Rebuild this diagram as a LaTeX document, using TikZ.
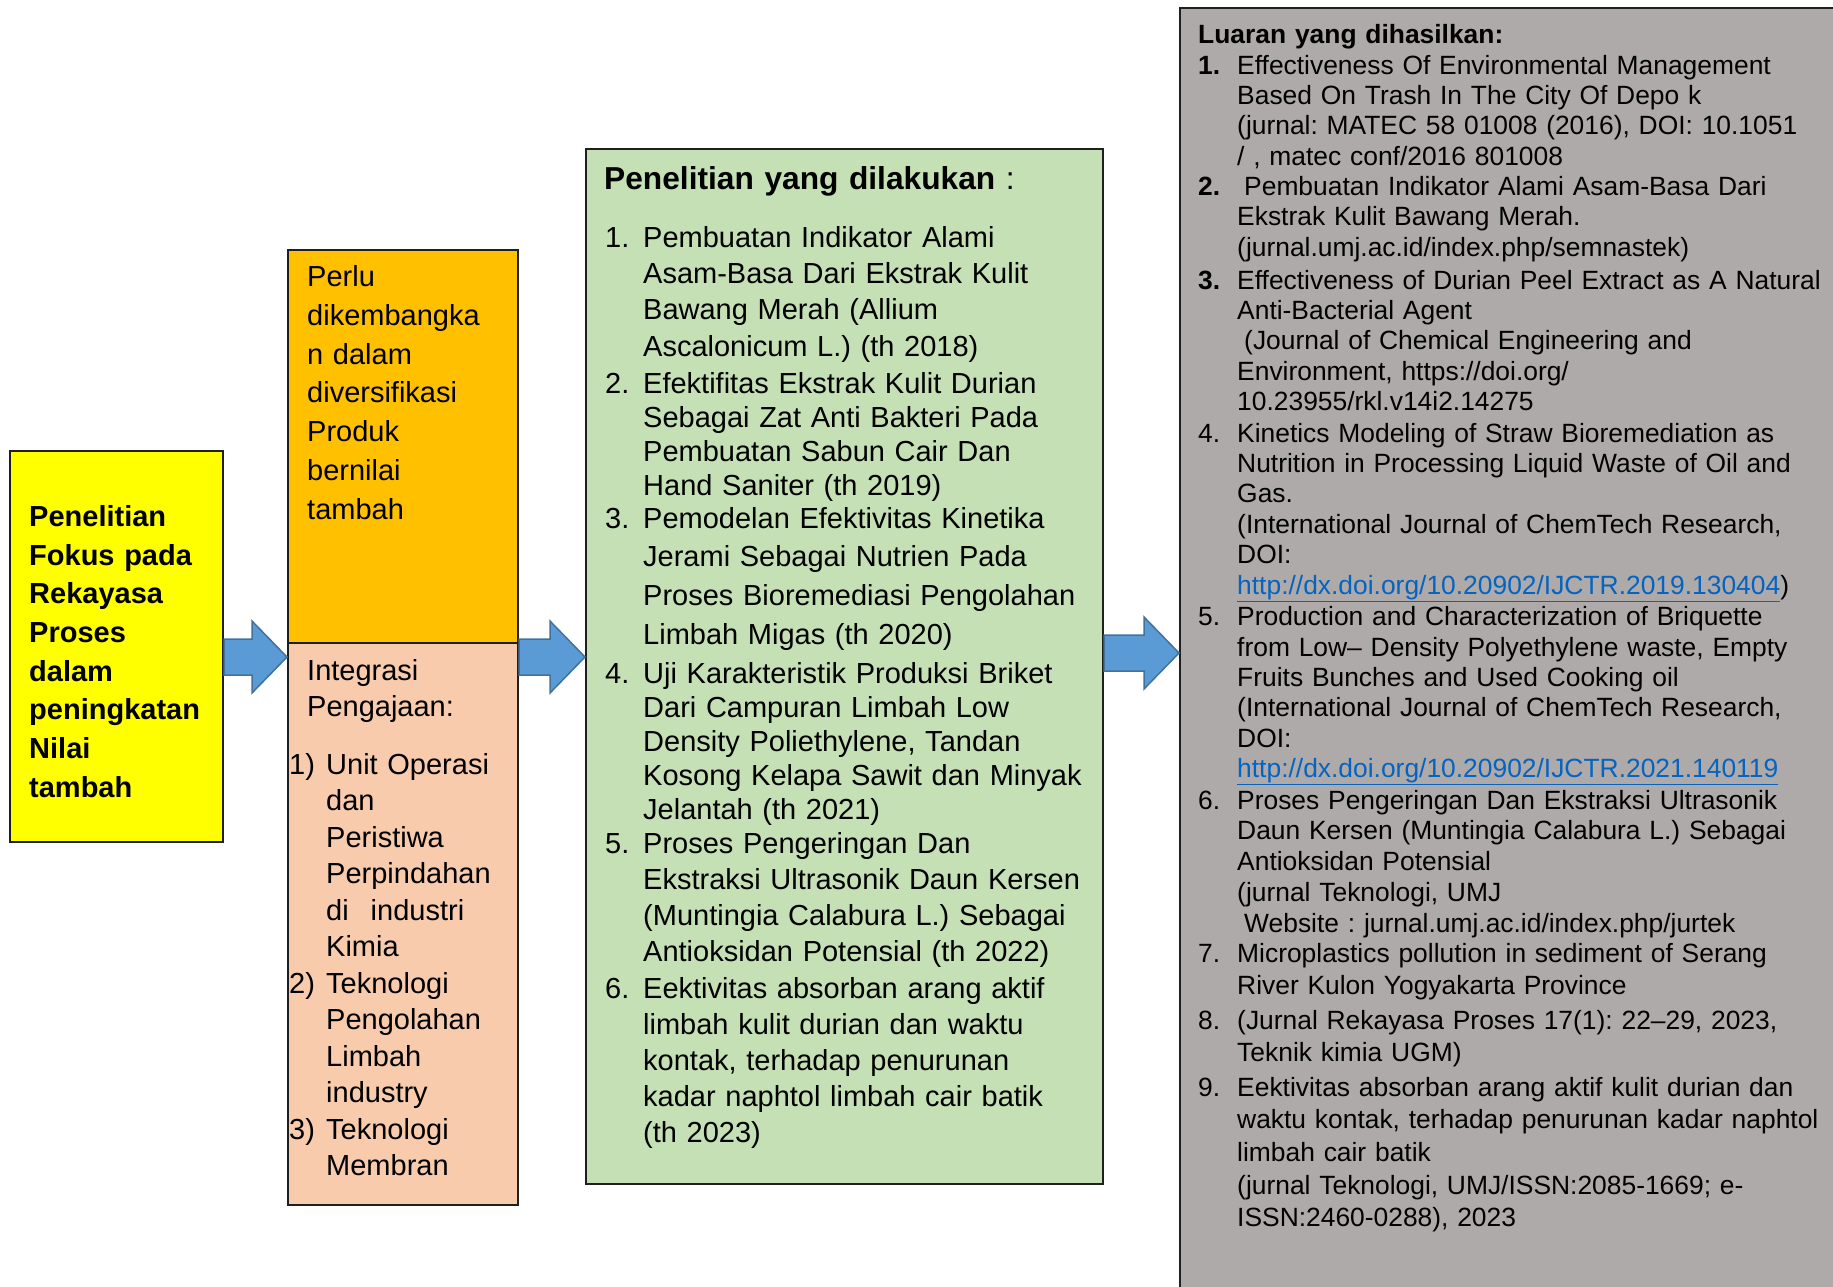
\documentclass[tikz,border=0pt]{standalone}
\usepackage{fontspec}
\setmainfont{Liberation Sans}
\usetikzlibrary{calc}

\definecolor{focusyellow}{HTML}{FFFF00}
\definecolor{developorange}{HTML}{FFC000}
\definecolor{teachpeach}{HTML}{F8CBAD}
\definecolor{researchgreen}{HTML}{C5E0B4}
\definecolor{outputgray}{HTML}{AEAAAA}
\definecolor{arrowblue}{HTML}{5B9BD5}
\definecolor{arrowedge}{HTML}{41719C}
\definecolor{linkblue}{HTML}{0563C1}

\newcommand\setsize[2]{\fontsize{#1}{#2}\selectfont\frenchspacing}
\newcommand\weblink[1]{\textcolor{linkblue}{\underline{#1}}}
\newcommand\blockarrow[2]{\draw[flowarrow] ($(#1)+(0,-18)$) -- ($(#2)+(-35,-18)$) -- ($(#2)+(-35,-36)$) -- (#2) -- ($(#2)+(-35,36)$) -- ($(#2)+(-35,18)$) -- ($(#1)+(0,18)$) -- cycle;}

\tikzset{
  panel/.style={draw=black!88, line width=2pt, anchor=north west, inner sep=0pt},
  body/.style={anchor=base west, inner sep=0pt, text width=#1, align=left},
  num/.style={anchor=base west, inner sep=0pt},
  flowarrow/.style={fill=arrowblue, draw=arrowedge, line width=1.5pt, line join=miter}
}

\begin{document}
\begin{tikzpicture}[x=1pt, y=-1pt]
			%%%%% START %%%%%
			\useasboundingbox (0,0) rectangle (1833,1286);
			
			\node[panel, fill=focusyellow, minimum width=213pt, minimum height=391pt] (focus) at (9,450) {};
			\node[panel, fill=developorange, minimum width=230pt, minimum height=393pt] (develop) at (287,249) {};
			\node[panel, fill=teachpeach, minimum width=230pt, minimum height=562pt] (teach) at (287,642) {};
			\node[panel, fill=researchgreen, minimum width=517pt, minimum height=1035pt] (research) at (585,148) {};
			\node[panel, fill=outputgray, minimum width=666pt, minimum height=1293pt] (output) at (1179,7) {};
			
			\coordinate (flow) at (0,657);
			\coordinate (flowout) at (0,653);
			\blockarrow{focus.east |- flow}{develop.west |- flow}
			\blockarrow{develop.east |- flow}{research.west |- flow}
			\blockarrow{research.east |- flowout}{output.west |- flowout}
			
			\node[body=190pt, font={\setsize{29}{38.65}\bfseries}] (focus-text) at (29,526.5)
				{Penelitian\\Fokus pada\\Rekayasa\\Proses\\dalam\\peningkatan\\Nilai\\tambah};
			
			\node[body=205pt, font={\setsize{29}{38.8}}] (develop-text) at (307,286.5)
				{Perlu\\dikembangka\\n dalam\\diversifikasi\\Produk\\bernilai\\tambah};
			
			\node[body=205pt, font={\setsize{29}{36}}] (teach-text) at (307,680) {Integrasi\\Pengajaan:};
			\node[num, font={\setsize{29}{36.5}}] (t1-num) at (289,774) {1)};
			\node[body=190pt, font={\setsize{29}{36.5}}] (t1) at (326,774)
				{Unit Operasi\\dan\\Peristiwa\\Perpindahan\\di\hspace{22pt}industri\\Kimia};
			\node[num, font={\setsize{29}{36.5}}] (t2-num) at (289,993) {2)};
			\node[body=190pt, font={\setsize{29}{36.5}}] (t2) at (326,993)
				{Teknologi\\Pengolahan\\Limbah\\industry};
			\node[num, font={\setsize{29}{36.5}}] (t3-num) at (289,1139) {3)};
			\node[body=190pt, font={\setsize{29}{36.5}}] (t3) at (326,1139) {Teknologi\\Membran};
			
			\node[body=480pt, font={\setsize{31.7}{38}}] (research-title) at (604,189)
				{\textbf{Penelitian yang dilakukan} :};
			\node[num, font={\setsize{29}{36}}] (r1-num) at (605,247) {1.};
			\node[body=455pt, font={\setsize{29}{36.4}}] (r1) at (643,247)
				{Pembuatan Indikator Alami\\Asam-Basa Dari Ekstrak Kulit\\Bawang Merah (Allium\\Ascalonicum L.) (th 2018)};
			\node[num, font={\setsize{29}{36}}] (r2-num) at (605,393.5) {2.};
			\node[body=455pt, font={\setsize{29}{34}}] (r2) at (643,393.5)
				{Efektifitas Ekstrak Kulit Durian\\Sebagai Zat Anti Bakteri Pada\\Pembuatan Sabun Cair Dan\\Hand Saniter (th 2019)};
			\node[num, font={\setsize{29}{36}}] (r3-num) at (605,528) {3.};
			\node[body=455pt, font={\setsize{29}{38.8}}] (r3) at (643,528)
				{Pemodelan Efektivitas Kinetika\\Jerami Sebagai Nutrien Pada\\Proses Bioremediasi Pengolahan\\Limbah Migas (th 2020)};
			\node[num, font={\setsize{29}{36}}] (r4-num) at (605,683) {4.};
			\node[body=455pt, font={\setsize{29}{34}}] (r4) at (643,683)
				{Uji Karakteristik Produksi Briket\\Dari Campuran Limbah Low\\Density Poliethylene, Tandan\\Kosong Kelapa Sawit dan Minyak\\Jelantah (th 2021)};
			\node[num, font={\setsize{29}{36}}] (r5-num) at (605,853) {5.};
			\node[body=455pt, font={\setsize{29}{36.2}}] (r5) at (643,853)
				{Proses Pengeringan Dan\\Ekstraksi Ultrasonik Daun Kersen\\(Muntingia Calabura L.) Sebagai\\Antioksidan Potensial (th 2022)};
			\node[num, font={\setsize{29}{36}}] (r6-num) at (605,998) {6.};
			\node[body=455pt, font={\setsize{29}{36.2}}] (r6) at (643,998)
				{Eektivitas absorban arang aktif\\limbah kulit durian dan waktu\\kontak, terhadap penurunan\\kadar naphtol limbah cair batik\\(th 2023)};
			
			\node[body=600pt, font={\setsize{26.4}{30.4}\bfseries}] (output-title) at (1198,43.5) {Luaran yang dihasilkan:};
			\node[num, font={\setsize{26.4}{30.4}\bfseries}] (o1-num) at (1198,74) {1.};
			\node[body=600pt, font={\setsize{26.4}{30.4}}] (o1) at (1237,74)
				{Effectiveness Of Environmental Management\\Based On Trash In The City Of Depo k\\(jurnal: MATEC 58 01008 (2016), DOI: 10.1051\\/ , matec conf/2016 801008};
			\node[num, font={\setsize{26.4}{30.4}\bfseries}] (o2-num) at (1198,195.5) {2.};
			\node[body=600pt, font={\setsize{26.4}{30.4}}] (o2) at (1237,195.5)
				{\hspace*{7pt}Pembuatan Indikator Alami Asam-Basa Dari\\Ekstrak Kulit Bawang Merah.\\(jurnal.umj.ac.id/index.php/semnastek)};
			\node[num, font={\setsize{26.4}{30.4}\bfseries}] (o3-num) at (1198,289) {3.};
			\node[body=600pt, font={\setsize{26.4}{30.4}}] (o3) at (1237,289)
				{Effectiveness of Durian Peel Extract as A Natural\\Anti-Bacterial Agent\\\hspace*{7pt}(Journal of Chemical Engineering and\\Environment, https://doi.org/\\10.23955/rkl.v14i2.14275};
			\node[num, font={\setsize{26.4}{30.4}}] (o4-num) at (1198,442) {4.};
			\node[body=600pt, font={\setsize{26.4}{30.4}}] (o4) at (1237,442)
				{Kinetics Modeling of Straw Bioremediation as\\Nutrition in Processing Liquid Waste of Oil and\\Gas.\\(International Journal of ChemTech Research,\\DOI:\\\weblink{http://dx.doi.org/10.20902/IJCTR.2019.130404})};
			\node[num, font={\setsize{26.4}{30.4}}] (o5-num) at (1198,625.7) {5.};
			\node[body=600pt, font={\setsize{26.4}{30.4}}] (o5) at (1237,625.7)
				{Production and Characterization of Briquette\\from Low– Density Polyethylene waste, Empty\\Fruits Bunches and Used Cooking oil\\(International Journal of ChemTech Research,\\DOI:\\\weblink{http://dx.doi.org/10.20902/IJCTR.2021.140119}};
			\node[num, font={\setsize{26.4}{30.75}}] (o6-num) at (1198,809) {6.};
			\node[body=600pt, font={\setsize{26.4}{30.75}}] (o6) at (1237,809)
				{Proses Pengeringan Dan Ekstraksi Ultrasonik\\Daun Kersen (Muntingia Calabura L.) Sebagai\\Antioksidan Potensial\\(jurnal Teknologi, UMJ\\\hspace*{7pt}Website : jurnal.umj.ac.id/index.php/jurtek};
			\node[num, font={\setsize{26.4}{31.6}}] (o7-num) at (1198,962.4) {7.};
			\node[body=600pt, font={\setsize{26.4}{31.6}}] (o7) at (1237,962.4)
				{Microplastics pollution in sediment of Serang\\River Kulon Yogyakarta Province};
			\node[num, font={\setsize{26.4}{32}}] (o8-num) at (1198,1029) {8.};
			\node[body=600pt, font={\setsize{26.4}{32}}] (o8) at (1237,1029)
				{(Jurnal Rekayasa Proses 17(1): 22–29, 2023,\\Teknik kimia UGM)};
			\node[num, font={\setsize{26.4}{32.7}}] (o9-num) at (1198,1096) {9.};
			\node[body=600pt, font={\setsize{26.4}{32.7}}] (o9) at (1237,1096)
				{Eektivitas absorban arang aktif kulit durian dan\\waktu kontak, terhadap penurunan kadar naphtol\\limbah cair batik\\(jurnal Teknologi, UMJ/ISSN:2085-1669; e-\\ISSN:2460-0288), 2023};
			
			%%%%% END %%%%%
\end{tikzpicture}
\end{document}
